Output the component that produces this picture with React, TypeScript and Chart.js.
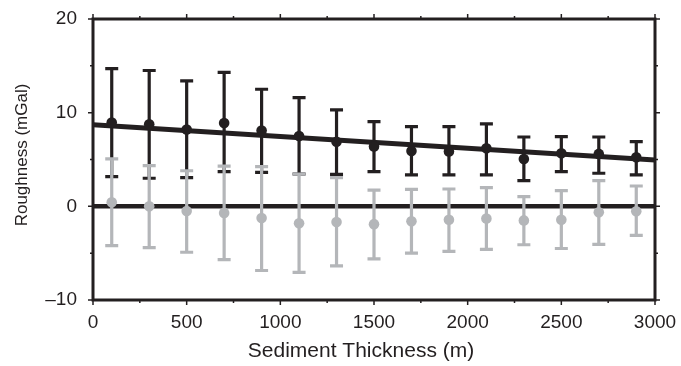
import React, { useEffect, useRef } from "react";
import { Chart, registerables } from "chart.js";

Chart.register(...registerables);

// ---- data ----
const thickness = [100, 300, 500, 700, 900, 1100, 1300, 1500, 1700, 1900, 2100, 2300, 2500, 2700, 2900];
const blackMean = [8.94, 8.77, 8.2, 8.9, 8.1, 7.5, 6.9, 6.4, 5.9, 5.85, 6.2, 5.06, 5.67, 5.6, 5.24];
const blackUpper = [14.7, 14.5, 13.4, 14.3, 12.5, 11.6, 10.3, 9.05, 8.5, 8.5, 8.8, 7.4, 7.45, 7.4, 6.9];
const blackLower = [3.17, 3.0, 3.06, 3.7, 3.63, 3.45, 3.42, 3.7, 3.35, 3.35, 3.35, 2.74, 3.7, 3.53, 3.35];
const grayMean = [0.43, 0.0, -0.5, -0.7, -1.25, -1.8, -1.68, -1.9, -1.6, -1.43, -1.3, -1.5, -1.43, -0.64, -0.53];
const grayUpper = [5.06, 4.35, 3.8, 4.3, 4.24, 3.45, 3.06, 1.74, 1.82, 1.85, 1.99, 1.03, 1.67, 2.74, 2.17];
const grayLower = [-4.2, -4.4, -4.9, -5.7, -6.85, -7.06, -6.35, -5.6, -5.0, -4.8, -4.6, -4.1, -4.5, -4.07, -3.1];
const fitX = [0, 3000];
const fitY = [8.7, 4.95];
const zeroX = [0, 3000];
const zeroY = [0, 0];
const xTicks = [0, 500, 1000, 1500, 2000, 2500, 3000];
const yTicks = [-10, 0, 10, 20];
const xMinorStep = 250;
const yMinorStep = 5;
const xTitle = "Sediment Thickness (m)";
const yTitle = "Roughness (mGal)";

const INK = "#231f20";
const GRAY = "#b4b6b9";
const FONT = "'Liberation Sans', Arial, Helvetica, sans-serif";

const errorBarPlugin = {
  id: "errorBars",
  beforeDatasetDraw(chart: any, args: any) {
    const ds: any = chart.data.datasets[args.index];
    if (!ds.errLow) return;
    const ctx = chart.ctx;
    const xs = chart.scales.x;
    const ys = chart.scales.y;
    ctx.save();
    ctx.strokeStyle = ds.backgroundColor;
    ctx.lineWidth = 3.2;
    ctx.lineCap = "butt";
    ds.data.forEach((p: any, i: number) => {
      const px = xs.getPixelForValue(p.x);
      const yl = ys.getPixelForValue(ds.errLow[i]);
      const yh = ys.getPixelForValue(ds.errHigh[i]);
      ctx.beginPath();
      ctx.moveTo(px, yh);
      ctx.lineTo(px, yl);
      ctx.moveTo(px - 6.5, yh);
      ctx.lineTo(px + 6.5, yh);
      ctx.moveTo(px - 6.5, yl);
      ctx.lineTo(px + 6.5, yl);
      ctx.stroke();
    });
    ctx.restore();
  },
};

const framePlugin = {
  id: "frame",
  afterDraw(chart: any) {
    const { ctx, chartArea: a } = chart;
    const xs = chart.scales.x;
    const ys = chart.scales.y;
    ctx.save();
    ctx.strokeStyle = INK;
    ctx.lineWidth = 1.5;
    ctx.beginPath();
    for (let v = xs.min; v <= xs.max + 1e-6; v += xMinorStep) {
      const major = xTicks.includes(v);
      const len = major ? 5 : 3;
      const px = xs.getPixelForValue(v);
      ctx.moveTo(px, a.bottom);
      ctx.lineTo(px, a.bottom + len);
      ctx.moveTo(px, a.top);
      ctx.lineTo(px, a.top - len);
    }
    for (let v = ys.min; v <= ys.max + 1e-6; v += yMinorStep) {
      const major = yTicks.includes(v);
      const len = major ? 5 : 3;
      const py = ys.getPixelForValue(v);
      ctx.moveTo(a.left, py);
      ctx.lineTo(a.left - len, py);
      ctx.moveTo(a.right, py);
      ctx.lineTo(a.right + len, py);
    }
    ctx.stroke();
    ctx.lineWidth = 3;
    ctx.strokeRect(a.left, a.top, a.right - a.left, a.bottom - a.top);

    // axis titles
    ctx.fillStyle = INK;
    ctx.textAlign = "center";
    ctx.textBaseline = "alphabetic";
    ctx.font = `21px ${FONT}`;
    ctx.fillText(xTitle, 361, 357);
    ctx.translate(27, 155);
    ctx.rotate(-Math.PI / 2);
    ctx.font = `17px ${FONT}`;
    ctx.fillText(yTitle, 0, 0);
    ctx.restore();
  },
};

export default function App() {
  const ref = useRef<HTMLCanvasElement>(null);
  useEffect(() => {
    if (!ref.current) return;
    const chart = new Chart(ref.current, {
      type: "scatter",
      data: {
        datasets: [
          {
            label: "zero",
            data: zeroX.map((x, i) => ({ x, y: zeroY[i] })),
            showLine: true,
            borderColor: INK,
            borderWidth: 4.5,
            pointRadius: 0,
            order: 5,
          },
          {
            label: "fit",
            data: fitX.map((x, i) => ({ x, y: fitY[i] })),
            showLine: true,
            borderColor: INK,
            borderWidth: 5,
            pointRadius: 0,
            order: 4,
          },
          {
            label: "black",
            data: thickness.map((x, i) => ({ x, y: blackMean[i] })),
            backgroundColor: INK,
            borderColor: INK,
            borderWidth: 0,
            pointRadius: 5.3,
            errLow: blackLower,
            errHigh: blackUpper,
            order: 3,
          } as any,
          {
            label: "gray",
            data: thickness.map((x, i) => ({ x, y: grayMean[i] })),
            backgroundColor: GRAY,
            borderColor: GRAY,
            borderWidth: 0,
            pointRadius: 5.3,
            errLow: grayLower,
            errHigh: grayUpper,
            order: 1,
          } as any,
        ],
      },
      options: {
        responsive: false,
        animation: false,
        layout: { padding: { left: 0, right: 26, top: 19, bottom: 0 } },
        plugins: { legend: { display: false }, tooltip: { enabled: false } },
        scales: {
          x: {
            type: "linear",
            min: 0,
            max: 3000,
            afterFit: (s: any) => {
              s.height = 66;
              s.paddingLeft = 0;
              s.paddingRight = 0;
            },
            afterBuildTicks: (s: any) => {
              s.ticks = xTicks.map((v) => ({ value: v }));
            },
            grid: { display: false, drawTicks: false },
            border: { display: false },
            ticks: {
              color: INK,
              font: { family: FONT, size: 19 },
              padding: 11,
              maxRotation: 0,
              callback: (v: any) => String(v),
            },
            title: { display: false },
          },
          y: {
            type: "linear",
            min: -10,
            max: 20,
            afterFit: (s: any) => {
              s.width = 93;
              s.paddingTop = 0;
              s.paddingBottom = 0;
            },
            afterBuildTicks: (s: any) => {
              s.ticks = yTicks.map((v) => ({ value: v }));
            },
            grid: { display: false, drawTicks: false },
            border: { display: false },
            ticks: {
              color: INK,
              font: { family: FONT, size: 19 },
              padding: 16,
              callback: (v: any) => (Number(v) < 0 ? "\u2013" + Math.abs(Number(v)) : String(v)),
            },
            title: { display: false },
          },
        },
      },
      plugins: [errorBarPlugin, framePlugin],
    });
    return () => chart.destroy();
  }, []);
  return (
    <div style={{ position: "absolute", left: 0, top: 0, width: 681, height: 366, background: "#fff" }}>
      <canvas ref={ref} width={681} height={366} style={{ display: "block" }} />
    </div>
  );
}
